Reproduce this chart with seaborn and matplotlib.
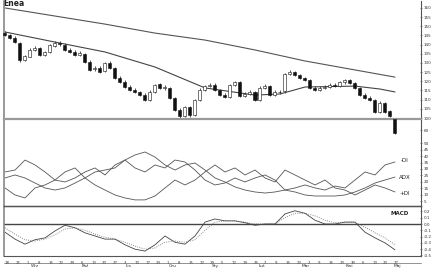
import numpy as np
import pandas as pd
import matplotlib
matplotlib.use("Agg")
import matplotlib.pyplot as plt
import seaborn as sns

sns.set_style("white")
plt.rcParams['font.family'] = ['DejaVu Sans']

title = "Enea"

opens = [146.5,145.0,143.8,141.0,131.8,133.5,137.0,138.0,134.5,136.2,
         139.5,141.0,140.0,137.3,136.2,134.5,135.0,130.8,126.5,127.5,
         125.5,130.2,127.0,122.0,119.8,117.0,115.5,114.0,112.8,110.0,
         114.0,118.3,116.2,116.5,111.0,104.6,101.3,106.2,101.8,110.0,
         115.5,117.6,118.2,115.0,112.7,111.6,118.2,119.4,112.2,113.3,
         114.0,110.0,116.6,117.2,112.8,114.0,114.5,124.2,125.0,123.2,
         121.6,120.5,116.6,115.5,116.6,117.0,118.2,117.6,119.4,120.5,
         119.0,116.2,112.7,111.0,109.6,103.5,108.0,103.6,99.5]
closes = [145.2,143.6,141.4,131.6,133.8,137.1,138.2,134.3,136.0,139.8,
          140.9,140.3,137.1,136.0,134.3,135.4,130.5,126.2,127.3,125.1,
          130.0,127.3,121.8,119.6,116.9,115.3,114.2,112.5,109.8,114.2,
          118.0,116.4,116.9,110.9,104.4,101.1,106.0,101.6,109.8,115.3,
          117.4,118.0,115.3,112.5,111.4,118.0,119.6,112.0,113.1,114.2,
          109.8,116.4,117.4,112.5,114.2,114.2,124.0,125.1,123.4,121.8,
          120.7,116.4,115.3,116.4,116.9,118.0,117.4,119.6,120.7,119.1,
          116.4,112.5,110.9,109.8,103.3,108.2,103.3,101.1,92.0]
highs = [147.2,145.8,144.5,141.6,134.6,137.9,139.0,138.6,136.8,140.6,
         141.8,141.9,140.7,138.0,136.9,136.3,135.6,131.4,128.2,128.2,
         130.8,130.9,127.6,122.7,120.5,117.8,116.3,114.8,113.5,115.0,
         118.8,119.0,117.8,117.1,111.6,105.2,106.8,106.8,110.6,116.1,
         118.2,118.9,118.9,115.7,113.5,118.8,120.4,120.0,114.0,115.0,
         114.7,117.2,118.3,117.9,115.0,115.1,124.8,126.0,125.8,124.0,
         122.5,121.2,117.4,117.3,117.8,118.9,119.1,120.4,121.5,121.3,
         119.7,116.9,113.5,111.8,110.3,109.0,108.7,104.3,100.2]
lows = [144.6,143.0,140.8,130.8,131.0,133.0,136.4,133.6,133.9,135.6,
        138.9,139.5,136.4,135.3,133.6,133.8,129.8,125.5,125.8,124.4,
        124.9,126.6,121.1,118.9,116.2,114.6,113.5,111.8,109.0,109.4,
        113.4,115.7,115.5,110.2,103.7,100.2,100.7,100.6,101.2,109.4,
        114.8,116.9,114.6,111.8,110.7,111.0,117.5,111.3,111.5,112.6,
        109.0,109.4,115.9,111.8,112.1,113.2,113.9,123.5,122.7,121.1,
        120.0,115.7,114.6,114.8,115.9,116.3,116.7,116.9,118.7,118.4,
        115.7,111.8,110.2,109.1,102.6,102.9,102.6,100.4,91.3]

ma_long_idx = [0, 10, 20, 30, 40, 50, 60, 70, 78]
ma_long = [160.0, 155.6, 151.2, 146.3, 142.5, 137.1, 131.1, 126.2, 122.3]
ma_mid_idx = [0, 10, 20, 30, 40, 50, 55, 60, 70, 75, 78]
ma_mid = [146.9, 141.4, 136.0, 127.8, 116.4, 112.5, 113.1, 116.9, 117.4, 115.8, 114.2]

ind_idx = list(range(0, 80, 2))
adx = [23.1,25.4,23.1,19.2,15.4,13.8,15.4,19.2,23.1,27.7,
       29.2,30.8,36.9,40.8,43.1,39.2,33.1,29.2,33.1,34.6,
       29.2,23.1,20.0,16.2,13.8,12.3,11.5,12.3,13.8,12.3,
       10.0,9.2,9.2,9.2,10.0,12.3,15.4,19.2,21.5,23.8]
minus_di = [27.7,29.2,36.9,33.1,27.7,21.5,20.0,23.1,27.7,30.8,
            25.4,33.1,36.9,30.8,27.7,33.1,30.8,36.9,35.4,29.2,
            21.5,17.7,19.2,23.1,20.0,23.1,25.4,21.5,13.8,15.4,
            17.7,15.4,13.8,16.9,15.4,21.5,27.7,25.4,33.1,35.4]
plus_di = [15.4,10.0,7.7,15.4,17.7,21.5,27.7,30.8,23.1,17.7,
           13.8,10.0,7.7,6.2,6.2,9.2,15.4,21.5,17.7,21.5,
           27.7,33.1,27.7,30.8,25.4,29.2,23.1,20.0,29.2,25.4,
           21.5,17.7,21.5,15.4,13.8,10.0,13.8,17.7,15.4,12.3]
macd = [-0.13,-0.24,-0.32,-0.25,-0.22,-0.11,-0.02,-0.06,-0.14,-0.19,
        -0.24,-0.24,-0.33,-0.40,-0.43,-0.33,-0.19,-0.29,-0.32,-0.19,
        0.03,0.08,0.05,0.05,0.02,-0.02,0.0,0.0,0.16,0.21,
        0.17,0.06,0.0,0.0,0.03,0.03,-0.13,-0.22,-0.30,-0.41]
signal = [-0.06,-0.16,-0.25,-0.27,-0.24,-0.17,-0.08,-0.06,-0.10,-0.16,
          -0.21,-0.24,-0.29,-0.35,-0.40,-0.38,-0.29,-0.27,-0.29,-0.25,
          -0.10,0.03,0.05,0.05,0.03,0.0,0.0,0.0,0.10,0.17,
          0.17,0.13,0.06,0.02,0.03,0.03,-0.05,-0.14,-0.22,-0.33]

price_ticks = list(range(100, 165, 5))
adx_ticks = [5, 10, 15, 20, 25, 30, 35, 40, 45, 50, 60]
macd_ticks = [0.2, 0.1, 0.0, -0.1, -0.2, -0.3, -0.4, -0.5]
day_labels = ["18","25","1","8","15","22","29","6","13","20","27","3","10",
              "17","24","1","8","15","22","29","5","12","19","26","2","9",
              "16","23","2","9","16","23","30","6","13","20","27"]
month_labels = ["Wrz", "Paź", "Lis", "Gru", "Sty", "Lut", "Mar", "Kwi", "Maj"]
month_week = [2.8, 7.4, 11.4, 15.5, 19.5, 23.8, 27.8, 31.9, 36.3]

W, H = 439, 268
fig = plt.figure(figsize=(W / 100, H / 100), dpi=100)
fig.patch.set_facecolor("white")

def frac(top_px, bot_px):
    return [4 / W, (H - bot_px) / H, 417 / W, (bot_px - top_px) / H]

ax_m = fig.add_axes(frac(206, 256))
ax_a = fig.add_axes(frac(119, 206))
ax_p = fig.add_axes(frac(1, 119))
for a in (ax_p, ax_a, ax_m):
    a.set_facecolor("none")
    a.set_xlim(-0.2, 83.2)
    a.yaxis.tick_right()
    a.tick_params(axis="y", labelsize=3, length=2, width=0.4, direction="inout", pad=1, colors="#333333")
    for s in a.spines.values():
        s.set_color("#555555")
        s.set_linewidth(0.8)
    a.spines["left"].set_color("#888888")
    a.spines["left"].set_linewidth(1.2)

# price panel
x = np.arange(len(closes))
o = np.array(opens); c = np.array(closes)
up = c >= o
ax_p.vlines(x, lows, highs, color="#111111", lw=0.5, clip_on=False, zorder=2)
ax_p.bar(x[up], (c - o)[up], bottom=o[up], width=0.6, color="white",
         edgecolor="#111111", lw=0.4, clip_on=False, zorder=3)
ax_p.bar(x[~up], (o - c)[~up], bottom=c[~up], width=0.6, color="#111111",
         edgecolor="#111111", lw=0.4, clip_on=False, zorder=3)
sns.lineplot(x=ma_long_idx, y=ma_long, ax=ax_p, color="#555555", lw=0.8)
sns.lineplot(x=ma_mid_idx, y=ma_mid, ax=ax_p, color="#444444", lw=0.8)
ax_p.set_ylim(99.455, 163.8)
ax_p.set_yticks(price_ticks)
ax_p.set_xticks([])
ax_p.spines["top"].set_visible(False)
ax_p.spines["bottom"].set_color("#999999")
ax_p.spines["bottom"].set_linewidth(1.6)
fig.text(3 / W, 1 - 3 / H, title, fontsize=5.5, fontweight="bold",
         va="center", ha="left", color="#222222")

# ADX panel
sns.lineplot(x=ind_idx, y=adx, ax=ax_a, color="#555555", lw=0.6)
sns.lineplot(x=ind_idx, y=minus_di, ax=ax_a, color="#555555", lw=0.6)
sns.lineplot(x=ind_idx, y=plus_di, ax=ax_a, color="#555555", lw=0.6)
ax_a.set_ylim(1.5, 68.5)
ax_a.set_yticks(adx_ticks)
ax_a.set_xticks([])
ax_a.spines["top"].set_visible(False)
ax_a.text(80, 36.9, "-DI", fontsize=4, ha="center", va="center", color="#222222")
ax_a.text(80, 23.8, "ADX", fontsize=4, ha="center", va="center", color="#222222")
ax_a.text(80, 11.5, "+DI", fontsize=4, ha="center", va="center", color="#222222")

# MACD panel
ax_m.axhline(0, color="#444444", lw=1.0)
sns.lineplot(x=ind_idx, y=macd, ax=ax_m, color="#444444", lw=0.6)
sns.lineplot(x=ind_idx, y=signal, ax=ax_m, color="#666666", lw=0.6, linestyle=":")
ax_m.set_ylim(-0.508, 0.286)
ax_m.set_yticks(macd_ticks)
ax_m.set_yticklabels([f"{v:.1f}" for v in macd_ticks])
ax_m.spines["top"].set_color("#444444")
ax_m.spines["top"].set_linewidth(1.0)
ax_m.text(79, 0.16, "MACD", fontsize=4, ha="center", va="center", color="#222222", fontweight="bold")
week_pos = np.arange(len(day_labels)) * 2.16
ax_m.set_xticks(week_pos)
ax_m.set_xticklabels(day_labels, ha="left")
ax_m.tick_params(axis="x", labelsize=2.8, length=3, width=0.4, direction="out", pad=0.5, colors="#333333")
ax_m.plot([0, 1], [-0.13, -0.13], transform=ax_m.transAxes, color="#666666", lw=0.5, clip_on=False)
for lbl, wk in zip(month_labels, month_week):
    ax_m.text(wk * 2.16, -0.2, lbl, transform=ax_m.get_xaxis_transform(),
              fontsize=3.2, ha="center", va="center", color="#333333")

for a in (ax_p, ax_a, ax_m):
    a.set_xlim(-0.2, 83.2)
    a.set_xlabel("")
    a.set_ylabel("")

fig.savefig("out.png", dpi=100, facecolor="white")
